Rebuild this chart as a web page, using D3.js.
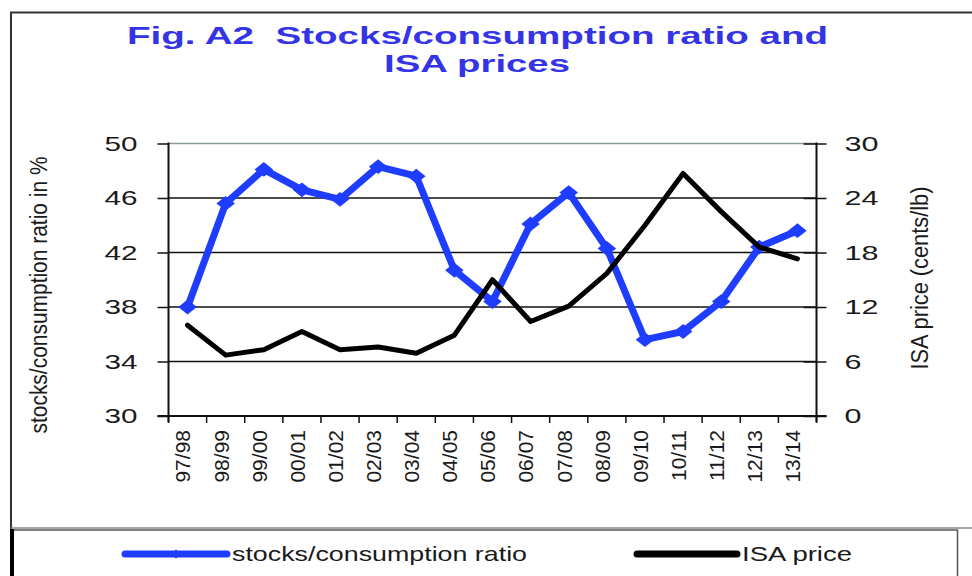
<!DOCTYPE html>
<html>
<head>
<meta charset="utf-8">
<script src="https://cdn.jsdelivr.net/npm/d3@7"></script>
<style>
    body { margin: 0; background: #fff; }
</style>
</head>
<body>
<div id="chart"></div>
<script>
// data
const seasons = ['97/98', '98/99', '99/00', '00/01', '01/02', '02/03', '03/04', '04/05', '05/06',
    '06/07', '07/08', '08/09', '09/10', '10/11', '11/12', '12/13', '13/14'];
const stockRatio = [38.0, 45.6, 48.1, 46.6, 45.9, 48.3, 47.6, 40.7, 38.4,
    44.1, 46.4, 42.3, 35.6, 36.2, 38.4, 42.4, 43.6];
const isaPrice = [10.0, 6.7, 7.3, 9.3, 7.3, 7.6, 6.9, 8.9, 15.0,
    10.4, 12.1, 15.7, 21.0, 26.7, 22.5, 18.6, 17.3];
const leftTicks = [30, 34, 38, 42, 46, 50];
const rightTicks = [0, 6, 12, 18, 24, 30];
const seriesNames = ['stocks/consumption ratio', 'ISA price'];
const titleLines = ['Fig. A2  Stocks/consumption ratio and', 'ISA prices'];

const width = 972,
    height = 576;
const fontFamily = '"Liberation Sans", Arial, sans-serif',
    blue = '#1f3dff',
    titleBlue = '#3434e6',
    textColor = '#1a1a1a';

const plot = { left: 168.5, right: 816.5, top: 143.5, bottom: 416 };

const svg = d3.select('#chart')
    .append('svg')
    .attr('width', width)
    .attr('height', height)
    .style('display', 'block')
    .style('font-family', fontFamily);

// outer frame of the chart (runs off the right edge)
svg.append('path')
    .attr('d', `M11,${height} V12.5 H${width}`)
    .attr('fill', 'none')
    .attr('stroke', '#333')
    .attr('stroke-width', 2);

svg.append('line')
    .attr('x1', 11).attr('x2', width)
    .attr('y1', 528).attr('y2', 528)
    .attr('stroke', '#888')
    .attr('stroke-width', 1.5);

// legend box
svg.append('rect')
    .attr('x', 11.5).attr('y', 530)
    .attr('width', 946).attr('height', 60)
    .attr('fill', '#fff')
    .attr('stroke', '#555')
    .attr('stroke-width', 1.5);

svg.append('line')
    .attr('x1', 12).attr('x2', 12)
    .attr('y1', 529).attr('y2', height)
    .attr('stroke', '#000')
    .attr('stroke-width', 4);

// title
const titleSpecs = [
    { x: 127, y: 44, len: 701 },
    { x: 384, y: 72, len: 186 }
];
svg.selectAll('.title')
    .data(titleLines)
    .enter()
    .append('text')
    .attr('class', 'title')
    .attr('x', (d, i) => titleSpecs[i].x)
    .attr('y', (d, i) => titleSpecs[i].y)
    .attr('textLength', (d, i) => titleSpecs[i].len)
    .attr('lengthAdjust', 'spacingAndGlyphs')
    .style('white-space', 'pre')
    .attr('font-size', 24)
    .attr('font-weight', 'bold')
    .attr('fill', titleBlue)
    .text(d => d);

// scales
const x = d3.scaleBand()
    .domain(seasons)
    .range([plot.left, plot.right]);

const yLeft = d3.scaleLinear()
    .domain([30, 50])
    .range([plot.bottom, plot.top]);

const yRight = d3.scaleLinear()
    .domain([0, 30])
    .range([plot.bottom, plot.top]);

// horizontal gridlines
svg.append('g')
    .selectAll('line')
    .data(leftTicks.filter(v => v > 30))
    .enter()
    .append('line')
    .attr('x1', plot.left).attr('x2', plot.right)
    .attr('y1', d => yLeft(d)).attr('y2', d => yLeft(d))
    .attr('stroke', d => d === 50 ? '#8a9c9c' : '#111')
    .attr('stroke-width', 1.5);

function styleTicks(g, digitWidth) {
    g.attr('font-size', null).attr('font-family', null);
    g.select('.domain').remove();
    g.selectAll('.tick line').attr('stroke', '#111').attr('stroke-width', 1.5);
    g.selectAll('.tick text')
        .attr('font-size', 21)
        .attr('fill', textColor)
        .attr('textLength', d => String(d).length * digitWidth)
        .attr('lengthAdjust', 'spacingAndGlyphs');
}

// left axis
const leftAxis = svg.append('g')
    .attr('transform', `translate(${plot.left},0)`)
    .call(d3.axisLeft(yLeft).tickValues(leftTicks).tickSize(11).tickPadding(20).tickSizeOuter(0));
styleTicks(leftAxis, 16.5);

// right axis
const rightAxis = svg.append('g')
    .attr('transform', `translate(${plot.right},0)`)
    .call(d3.axisRight(yRight).tickValues(rightTicks).tickSize(10).tickPadding(18).tickSizeOuter(0));
styleTicks(rightAxis, 17);
rightAxis.selectAll('.tick line').attr('x1', -13);

// axis lines
svg.append('line')
    .attr('x1', plot.left).attr('x2', plot.left)
    .attr('y1', plot.top - 1).attr('y2', plot.bottom + 6)
    .attr('stroke', '#111').attr('stroke-width', 2);
svg.append('line')
    .attr('x1', plot.right).attr('x2', plot.right)
    .attr('y1', plot.top - 1).attr('y2', plot.bottom + 6)
    .attr('stroke', '#111').attr('stroke-width', 2);
svg.append('line')
    .attr('x1', plot.left - 11).attr('x2', plot.right + 10)
    .attr('y1', plot.bottom).attr('y2', plot.bottom)
    .attr('stroke', '#111').attr('stroke-width', 2);

// x axis labels, rotated
const xAxis = svg.append('g')
    .attr('transform', `translate(0,${plot.bottom})`)
    .call(d3.axisBottom(x).tickSize(0).tickPadding(0));
xAxis.attr('font-size', null).attr('font-family', null);
xAxis.select('.domain').remove();
xAxis.selectAll('.tick text')
    .attr('transform', 'rotate(-90)')
    .attr('text-anchor', 'end')
    .attr('x', -14)
    .attr('y', -4.5)
    .attr('dy', '0.35em')
    .attr('font-size', 21)
    .attr('fill', textColor);

// x ticks sit on the category boundaries
const bounds = seasons.map(s => x(s)).concat([x.range()[1]]);
svg.append('g')
    .selectAll('line')
    .data(bounds)
    .enter()
    .append('line')
    .attr('x1', d => d).attr('x2', d => d)
    .attr('y1', plot.bottom).attr('y2', plot.bottom + 7)
    .attr('stroke', '#111')
    .attr('stroke-width', 1.5);

// axis titles
svg.append('text')
    .attr('transform', 'translate(39,295) rotate(-90)')
    .attr('text-anchor', 'middle')
    .attr('dominant-baseline', 'central')
    .attr('font-size', 23)
    .attr('textLength', 277)
    .attr('lengthAdjust', 'spacingAndGlyphs')
    .attr('fill', textColor)
    .text('stocks/consumption ratio in %');

svg.append('text')
    .attr('transform', 'translate(920,278) rotate(-90)')
    .attr('text-anchor', 'middle')
    .attr('dominant-baseline', 'central')
    .attr('font-size', 23)
    .attr('textLength', 183)
    .attr('lengthAdjust', 'spacingAndGlyphs')
    .attr('fill', textColor)
    .text('ISA price (cents/lb)');

// series
const ratioData = seasons.map((s, i) => ({ season: s, value: stockRatio[i] }));
const priceData = seasons.map((s, i) => ({ season: s, value: isaPrice[i] }));
const cx = d => x(d.season) + x.bandwidth() / 2;

svg.append('path')
    .datum(ratioData)
    .attr('fill', 'none')
    .attr('stroke', blue)
    .attr('stroke-width', 7)
    .attr('stroke-linejoin', 'round')
    .attr('d', d3.line().x(cx).y(d => yLeft(d.value)));

const diamond = d3.symbol().type(d3.symbolSquare).size(110);
svg.append('g')
    .selectAll('path')
    .data(ratioData)
    .enter()
    .append('path')
    .attr('d', diamond)
    .attr('transform', d => `translate(${cx(d)},${yLeft(d.value)}) scale(1.25,1) rotate(45)`)
    .attr('fill', blue);

svg.append('path')
    .datum(priceData)
    .attr('fill', 'none')
    .attr('stroke', '#000')
    .attr('stroke-width', 5)
    .attr('stroke-linejoin', 'round')
    .attr('stroke-linecap', 'round')
    .attr('d', d3.line().x(cx).y(d => yRight(d.value)));

// legend
const legendItems = [
    { name: seriesNames[0], color: blue, x1: 125, x2: 227, textLen: 295, marker: true },
    { name: seriesNames[1], color: '#000', x1: 637, x2: 737, textLen: 110, marker: false }
];
const legend = svg.append('g')
    .selectAll('g')
    .data(legendItems)
    .enter()
    .append('g');

legend.append('line')
    .attr('x1', d => d.x1).attr('x2', d => d.x2)
    .attr('y1', 554).attr('y2', 554)
    .attr('stroke', d => d.color)
    .attr('stroke-width', 7)
    .attr('stroke-linecap', 'round');

legend.filter(d => d.marker)
    .append('path')
    .attr('d', d3.symbol().type(d3.symbolSquare).size(40))
    .attr('transform', d => `translate(${(d.x1 + d.x2) / 2},554) scale(1.2,1) rotate(45)`)
    .attr('fill', d => d.color);

legend.append('text')
    .attr('x', d => d.x2 + 5)
    .attr('y', 561)
    .attr('font-size', 21)
    .attr('textLength', d => d.textLen)
    .attr('lengthAdjust', 'spacingAndGlyphs')
    .attr('fill', textColor)
    .text(d => d.name);
</script>
</body>
</html>
